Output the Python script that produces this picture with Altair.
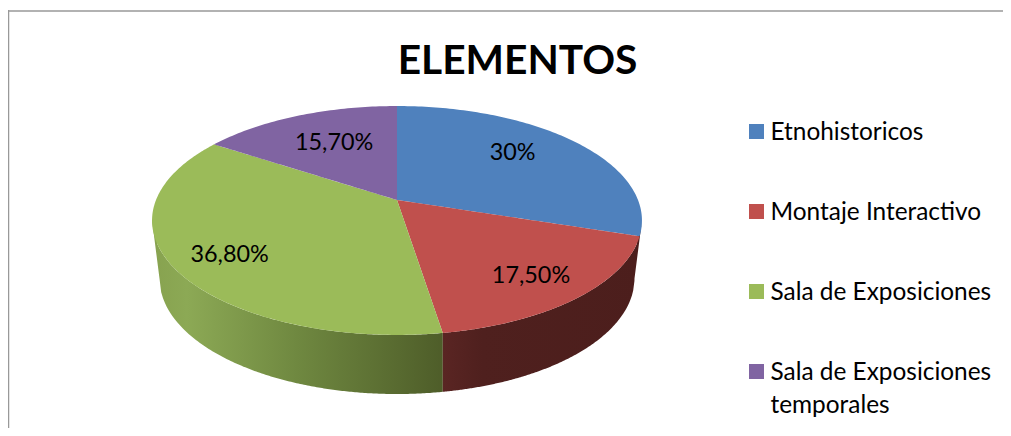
import numpy as np
import pandas as pd
import altair as alt

TITLE = "ELEMENTOS"
categories = ["Etnohistoricos", "Montaje Interactivo", "Sala de Exposiciones", "Sala de Exposiciones\ntemporales"]
shares = [30.0, 17.5, 36.8, 15.7]
share_labels = ["30%", "17,50%", "36,80%", "15,70%"]
colors = ["#4F81BD", "#C0504D", "#9BBB59", "#8064A2"]
label_angle = [48, 140.5, 235, 333.5]
label_radius = [0.70, 0.78, 0.78, 0.645]

# page-pixel layout of the tilted pie
W, H = 995, 420
CX, CY, R, K, A = 397.0, 200.0, 241.0, 0.179, 110.8
BX, BY, BRX, BRY = 397.0, 278.5, 237.5, 115.5
FONT = "Lato"


def project(deg, r=1.0):
    """Tilted-disc perspective: angle clockwise from the top, r in 0..1."""
    t = np.radians(deg)
    px, py = r * np.sin(t), r * np.cos(t)
    d = 1 + K * py
    return CX + R * px / d, CY - A * py / d


def band(points):
    """Convex polygon to x / y / y2 rows for an area mark."""
    pts = list(points)
    xs = sorted({round(p[0], 3) for p in pts})
    rows = []
    for x in xs:
        ys = []
        for (x0, y0), (x1, y1) in zip(pts, pts[1:] + pts[:1]):
            lo, hi = min(x0, x1) - 1e-3, max(x0, x1) + 1e-3
            if lo <= x <= hi:
                if abs(x1 - x0) < 1e-6:
                    ys += [y0, y1]
                else:
                    ys.append(y0 + (y1 - y0) * (x - x0) / (x1 - x0))
        rows.append((x, min(ys), max(ys)))
    return rows


bounds = np.cumsum([0.0] + shares) * 3.6
rows = []
for name, a, b in zip(categories, bounds[:-1], bounds[1:]):
    arc = [project(d) for d in np.linspace(a, b, int(b - a) + 2)]
    for x, y, y2 in band([(CX, CY)] + arc):
        rows.append(dict(cat=name, x=x, y=y, y2=y2))
top_df = pd.DataFrame(rows)

# side walls: the front rim of the disc over the rim of its lower face
split = bounds[2]
deg = np.linspace(90, 270, 721)
rim_x, rim_y = project(deg)
order = np.argsort(rim_x)
rim_x, rim_y = rim_x[order], rim_y[order]
lower = lambda x: BY + BRY * np.sqrt(np.clip(1 - ((x - BX) / BRX) ** 2, 0, 1))
split_x = float(project(split)[0])
left_end, right_end = float(rim_x[0]), float(rim_x[-1])


def wall(x_from, x_to):
    xs = np.unique(np.concatenate([np.linspace(x_from, x_to, 160), [BX - BRX, BX + BRX]]))
    xs = xs[(xs >= x_from) & (xs <= x_to)]
    ys = np.interp(xs, rim_x, rim_y)
    ys2 = lower(xs)
    # outer edge slopes in from the top rim to the lower face
    lo_l, lo_r = BX - BRX, BX + BRX
    ys2 = np.where(xs < lo_l, np.interp(xs, [left_end, lo_l], [np.interp(left_end, rim_x, rim_y), BY]), ys2)
    ys2 = np.where(xs > lo_r, np.interp(xs, [lo_r, right_end], [BY, np.interp(right_end, rim_x, rim_y)]), ys2)
    return pd.DataFrame(dict(x=xs, y=ys, y2=ys2))


green_wall = wall(left_end, split_x)
red_wall = wall(split_x, right_end)

lab = [project(a, r) for a, r in zip(label_angle, label_radius)]
label_df = pd.DataFrame(dict(text=share_labels, x=[p[0] for p in lab], y=[p[1] for p in lab]))

legend_x, legend_y0, legend_step = 756.5, 131.5, 80.0
legend_df = pd.DataFrame(dict(
    cat=categories,
    x=[legend_x] * 4,
    tx=[770.5] * 4,
    y=[legend_y0 + i * legend_step for i in range(4)],
    lines=[c.split("\n") for c in categories],
))

xs = alt.Scale(domain=[8, 8 + W], range=[0, W], nice=False, zero=False, clamp=False)
ys = alt.Scale(domain=[8, 8 + H], range=[0, H], nice=False, zero=False, clamp=False)
X = alt.X("x:Q", scale=xs, axis=None)
Y = alt.Y("y:Q", scale=ys, axis=None)
color = alt.Color("cat:N", scale=alt.Scale(domain=categories, range=colors), legend=None)


def grad(stops):
    return alt.Gradient(
        gradient="linear", x1=0, x2=1, y1=0, y2=0,
        stops=[alt.GradientStop(offset=o, color=c) for o, c in stops],
    )


green_side = alt.Chart(green_wall).mark_area(
    color=grad([(0, "#87A24F"), (0.12, "#8CA955"), (0.5, "#6F8840"), (1, "#4E5D29")])
).encode(x=X, y=Y, y2="y2:Q")
red_side = alt.Chart(red_wall).mark_area(
    color=grad([(0, "#5A2523"), (0.2, "#4F201E"), (1, "#4C1E1C")])
).encode(x=X, y=Y, y2="y2:Q")
top = alt.Chart(top_df).mark_area().encode(x=X, y=Y, y2="y2:Q", color=color, detail="cat:N")
labels = alt.Chart(label_df).mark_text(font=FONT, fontSize=23.4, color="#000000", baseline="middle", dy=1).encode(
    x=X, y=Y, text="text:N"
)
swatches = alt.Chart(legend_df).mark_square(size=225, opacity=1, filled=True).encode(x=X, y=Y, color=color)
legend_text = alt.Chart(legend_df).mark_text(
    font=FONT, fontSize=24.4, color="#000000", align="left", baseline="middle", lineHeight=33, dy=1.5
).encode(x=alt.X("tx:Q", scale=xs, axis=None), y=Y, text="lines:N")

frame_top = alt.Chart(pd.DataFrame({"a": [0]})).mark_rule(color="#999999", strokeWidth=1.5).encode(
    x=alt.value(0), x2=alt.value(W), y=alt.value(3)
)
frame_left = alt.Chart(pd.DataFrame({"a": [0]})).mark_rule(color="#999999", strokeWidth=1.5).encode(
    x=alt.value(0.5), y=alt.value(2), y2=alt.value(H)
)

chart = alt.layer(
    frame_top, frame_left, green_side, red_side, top, labels, swatches, legend_text
).properties(
    width=W, height=H, padding=0,
    autosize=alt.AutoSizeParams(type="none"),
    title=alt.TitleParams(TITLE, font=FONT, fontSize=40.7, fontWeight="bold", color="#000000",
                          anchor="middle", frame="group", dx=12, dy=79),
).configure_view(stroke=None)

chart.save("out.html", embed_options={"renderer": "svg", "actions": False})
